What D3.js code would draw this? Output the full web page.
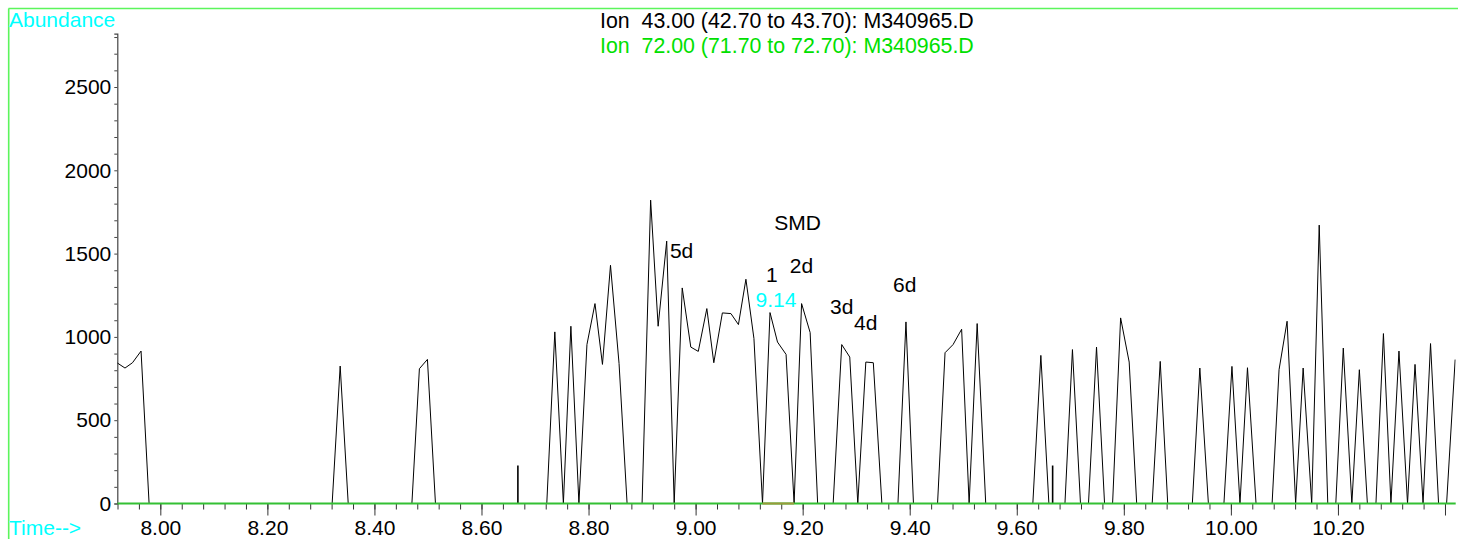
<!DOCTYPE html>
<html>
<head>
<meta charset="utf-8">
<script src="https://cdn.jsdelivr.net/npm/d3@7"></script>
<style>
  html, body { margin: 0; padding: 0; background: #ffffff; }
  svg { display: block; }
  text { font-family: "Liberation Sans", Arial, Helvetica, sans-serif; }
</style>
</head>
<body>
<svg id="chart" width="1458" height="539"></svg>
<script>
// ---------------- DATA ----------------
// Ion 43.00 trace: retention time (min) and abundance at each vertex
const ion43Times = [
  7.919, 7.934, 7.948, 7.964, 7.979, 8.321, 8.336, 8.351, 8.470, 8.484,
  8.499, 8.514, 8.722, 8.737, 8.753, 8.767, 8.782, 8.797, 8.812, 8.826,
  8.841, 8.857, 8.872, 8.900, 8.916, 8.930, 8.946, 8.960, 8.975, 8.991,
  9.005, 9.021, 9.034, 9.050, 9.066, 9.080, 9.094, 9.109, 9.125, 9.139,
  9.153, 9.169, 9.184, 9.198, 9.214, 9.228, 9.257, 9.273, 9.288, 9.303,
  9.318, 9.332, 9.348, 9.378, 9.393, 9.407, 9.452, 9.466, 9.481, 9.497,
  9.511, 9.526, 9.542, 9.630, 9.645, 9.660, 9.690, 9.704, 9.719, 9.734,
  9.749, 9.764, 9.779, 9.794, 9.810, 9.824, 9.853, 9.868, 9.882, 9.928,
  9.942, 9.958, 9.987, 10.002, 10.017, 10.031, 10.047, 10.077, 10.090, 10.105,
  10.121, 10.135, 10.151, 10.165, 10.181, 10.196, 10.210, 10.226, 10.240, 10.255,
  10.271, 10.285, 10.299, 10.314, 10.330, 10.344, 10.359, 10.373, 10.388, 10.403,
  10.419
];
const ion43Values = [
  845, 813, 845, 915, 0, 0, 825, 0, 0, 809,
  865, 0, 0, 1030, 0, 1064, 0, 954, 1200, 835,
  1430, 840, 0, 0, 1821, 1064, 1575, 0, 1294, 939,
  913, 1170, 845, 1144, 1140, 1074, 1346, 990, 0, 1146,
  969, 895, 0, 1200, 1026, 0, 0, 954, 879, 0,
  849, 845, 0, 0, 1090, 0, 0, 905, 954, 1046,
  0, 1080, 0, 0, 889, 0, 0, 924, 0, 0,
  939, 0, 0, 1114, 849, 0, 0, 853, 0, 0,
  813, 0, 0, 823, 0, 815, 0, 0, 803, 1094,
  0, 813, 0, 1671, 0, 0, 933, 0, 803, 0,
  0, 1020, 0, 915, 0, 835, 0, 960, 0, 0,
  864
];

// Ion 72.00 trace (flat at zero over the window)
const ion72Times = [7.92, 10.42];
const ion72Values = [0, 0];

// Integration baseline of peak 1 (start/end time)
const peak1Baseline = [9.125, 9.184];

// Small event markers (time, height)
const markerTimes = [8.668, 9.667];
const markerValues = [228, 228];

// Peak labels: text, time, abundance of the label baseline
const labelTexts  = ["SMD", "5d", "1", "2d", "9.14", "3d", "4d", "6d"];
const labelTimes  = [9.147, 8.952, 9.1315, 9.176, 9.112, 9.251, 9.296, 9.369];
const labelValues = [1642, 1472, 1328, 1382, 1181, 1136, 1041, 1268];
const labelColors = ["black", "black", "black", "black", "cyan", "black", "black", "black"];

// Axis ticks
const xMajorTicks = [8.00, 8.20, 8.40, 8.60, 8.80, 9.00, 9.20, 9.40, 9.60, 9.80, 10.00, 10.20, 10.40];
const xTickLabels = ["8.00", "8.20", "8.40", "8.60", "8.80", "9.00", "9.20", "9.40", "9.60", "9.80", "10.00", "10.20", ""];
const yMajorTicks = [0, 500, 1000, 1500, 2000, 2500];

const titleLines = [
  "Ion  43.00 (42.70 to 43.70): M340965.D",
  "Ion  72.00 (71.70 to 72.70): M340965.D"
];

// ---------------- CHART ----------------
const svg = d3.select("#chart");
const FONT = 21;

const x = d3.scaleLinear().domain([7.92, 10.42]).range([117.5, 1455.7]);
const y = d3.scaleLinear().domain([0, 2820]).range([503.5, 33.7]);

// Frame (top + left border)
svg.append("line").attr("x1", 8.5).attr("x2", 1458).attr("y1", 8.5).attr("y2", 8.5)
  .attr("stroke", "#5cf55c").attr("stroke-width", 1.6);
svg.append("line").attr("x1", 8.7).attr("x2", 8.7).attr("y1", 8.5).attr("y2", 539)
  .attr("stroke", "#5cf55c").attr("stroke-width", 1.6);

// Y axis
const yMinor = d3.range(0, 2801, 100);
const yAxis = d3.axisLeft(y).tickValues(yMinor).tickSize(3).tickPadding(3)
  .tickFormat(d => yMajorTicks.includes(d) ? String(d) : "");
const gy = svg.append("g").attr("transform", `translate(${x(7.92) - 0.2},0)`).call(yAxis);
gy.select(".domain").attr("stroke", "#444").attr("stroke-width", 1.2);
gy.selectAll(".tick line").attr("stroke", "#444");
gy.selectAll("text").attr("font-size", FONT).attr("fill", "black")
  .attr("font-family", "Liberation Sans, Arial, sans-serif");

// X axis: minor ticks every 0.04 min
const xMinor = d3.range(0, 63).map(i => +(7.92 + i * 0.04).toFixed(2));
const xAxisMinor = d3.axisBottom(x).tickValues(xMinor).tickSize(6).tickFormat("");
const gxm = svg.append("g").attr("transform", `translate(0,${y(0)})`).call(xAxisMinor);
gxm.select(".domain").remove();
gxm.selectAll(".tick line").attr("stroke", "#333");

const xAxisMajor = d3.axisBottom(x).tickValues(xMajorTicks).tickSize(12).tickPadding(4.5)
  .tickFormat((d, i) => xTickLabels[i]);
const gx = svg.append("g").attr("transform", `translate(0,${y(0)})`).call(xAxisMajor);
gx.select(".domain").remove();
gx.selectAll(".tick line").attr("stroke", "#333");
gx.selectAll("text").attr("font-size", FONT).attr("fill", "black")
  .attr("font-family", "Liberation Sans, Arial, sans-serif");

// Clip for traces
svg.append("clipPath").attr("id", "plotclip").append("rect")
  .attr("x", x(7.92)).attr("y", 0).attr("width", x(10.42) - x(7.92)).attr("height", y(0) + 2);

const line = d3.line().x(d => x(d[0])).y(d => y(d[1]));

// Ion 43 trace
const ion43 = ion43Times.map((t, i) => [t, ion43Values[i]]);
svg.append("path").datum(ion43).attr("d", line)
  .attr("clip-path", "url(#plotclip)")
  .attr("fill", "none").attr("stroke", "black").attr("stroke-width", 1)
  .attr("stroke-linejoin", "miter");

// Event markers
svg.append("g").selectAll("line").data(markerTimes).join("line")
  .attr("x1", d => x(d)).attr("x2", d => x(d))
  .attr("y1", y(0)).attr("y2", (d, i) => y(markerValues[i]))
  .attr("stroke", "black").attr("stroke-width", 1.6);

// Ion 72 trace
const ion72 = ion72Times.map((t, i) => [t, ion72Values[i]]);
svg.append("path").datum(ion72).attr("d", line)
  .attr("fill", "none").attr("stroke", "#33c033").attr("stroke-width", 2);

// Peak 1 integration baseline
svg.append("line").attr("x1", x(peak1Baseline[0])).attr("x2", x(peak1Baseline[1]))
  .attr("y1", y(0)).attr("y2", y(0)).attr("stroke", "#9a9a3a").attr("stroke-width", 2);

// Peak labels
svg.append("g").selectAll("text").data(labelTexts).join("text")
  .attr("x", (d, i) => x(labelTimes[i]))
  .attr("y", (d, i) => y(labelValues[i]))
  .attr("font-size", FONT)
  .attr("fill", (d, i) => labelColors[i] === "cyan" ? "#00ffff" : "black")
  .text(d => d);

// Titles
svg.append("text").attr("x", 9).attr("y", 27.3).attr("font-size", FONT)
  .attr("fill", "#00ffff").text("Abundance");
svg.append("text").attr("x", 9).attr("y", 535).attr("font-size", FONT)
  .attr("fill", "#00ffff").text("Time-->");
svg.append("text").attr("x", 600).attr("y", 27.5).attr("font-size", 21.35)
  .attr("fill", "black").attr("xml:space", "preserve").style("white-space", "pre").text(titleLines[0]);
svg.append("text").attr("x", 600).attr("y", 52.5).attr("font-size", 21.35)
  .attr("fill", "#00e000").attr("xml:space", "preserve").style("white-space", "pre").text(titleLines[1]);
</script>
</body>
</html>
